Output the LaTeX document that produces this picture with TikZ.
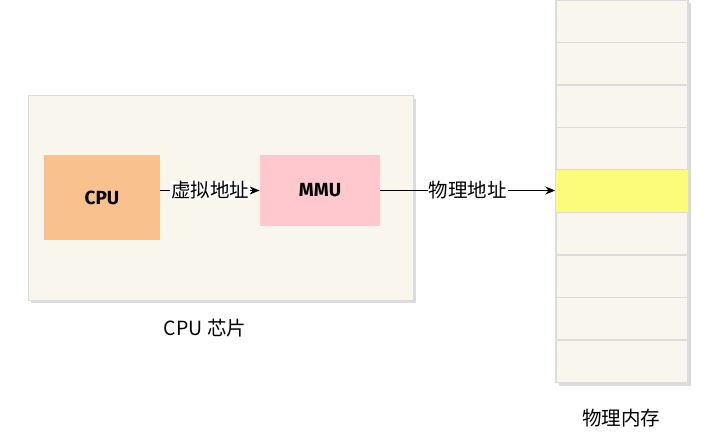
\documentclass[tikz,border=0pt]{standalone}
\usepackage{fontspec}
\newfontfamily\cjk{Noto Sans CJK SC}
\newfontfamily\hand{Fira Sans}
\usetikzlibrary{arrows.meta,positioning}
\definecolor{paper}{HTML}{F9F7ED}
\definecolor{edge}{HTML}{DCDCDC}
\definecolor{cpuorange}{HTML}{F9C18D}
\definecolor{mmupink}{HTML}{FFC7CE}
\definecolor{hiyellow}{HTML}{FCFC7A}
\begin{document}
\begin{tikzpicture}[x=1pt, y=-1pt, thick,
  chip/.style = {draw=edge, fill=paper, minimum width=385pt, minimum height=205pt},
  unit/.style = {minimum width=116pt, minimum height=85pt, font=\hand\bfseries\fontsize{19}{22}\selectfont},
  cell/.style = {draw=edge, line width=1.5pt, fill=paper, minimum width=132pt, minimum height=42.5pt},
  lbl/.style = {font=\cjk\fontsize{19.5}{22}\selectfont},
  arr/.style = {-{Stealth[length=10pt,width=8pt]}, line width=1.1pt}]
\useasboundingbox (0,0) rectangle (705,438);

% chip
\fill[edge] (31,99) rectangle (416,303);
\node[chip] (chip) at (220.5,197.5) {};
\node[unit, fill=cpuorange] (cpu) at (102,197.5) {CPU};
\node[unit, fill=mmupink, minimum width=120pt, minimum height=71pt] (mmu) at (320,190.5) {MMU};
\node[lbl] (chiplbl) at (205,328) {CPU 芯片};

% memory
\fill[edge] (559,3) rectangle (691,386);
\foreach \i in {1,...,9} {
  \node[cell] (m\i) at (622,{21.25+42.5*(\i-1)}) {};
}
\node[cell, draw=none, fill=hiyellow] at (m5) {};
\node[lbl] (memlbl) at (621,418) {物理内存};

\draw[arr] (cpu.east |- mmu.west) -- node[lbl, fill=white, inner sep=1pt] {虚拟地址} (mmu.west);
\draw[arr] (mmu.east) -- node[lbl, fill=white, inner sep=1pt] {物理地址} (mmu.east -| m5.west);

\end{tikzpicture}
\end{document}
